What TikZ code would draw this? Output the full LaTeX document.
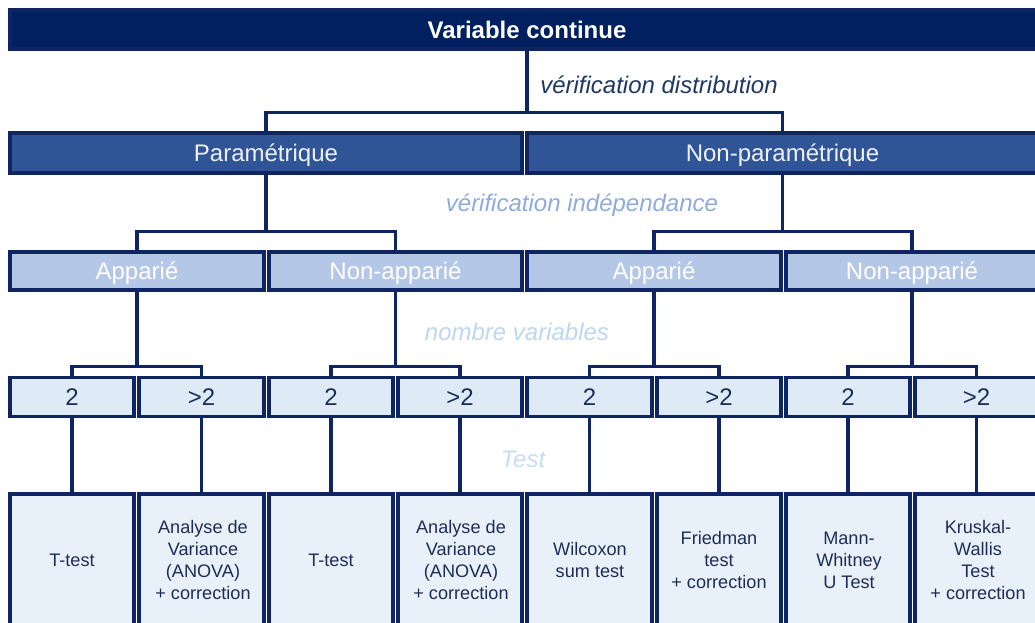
\documentclass[tikz,border=0pt]{standalone}
\usepackage{fontspec}
\setmainfont{Liberation Sans}
\definecolor{navy}{HTML}{0E2463}
\definecolor{topfill}{HTML}{002060}
\definecolor{lvtwo}{HTML}{2F5597}
\definecolor{lvthree}{HTML}{B4C7E7}
\definecolor{lvfour}{HTML}{DEEBF7}
\definecolor{lvfive}{HTML}{E8F0F9}
\definecolor{txtdark}{HTML}{1F2D55}
\definecolor{labone}{HTML}{1F3864}
\definecolor{labtwo}{HTML}{8FAADC}
\definecolor{labthree}{HTML}{BDD7EE}
\definecolor{labfour}{HTML}{C9DDF1}
\begin{document}
\begin{tikzpicture}[x=0.75pt,y=-0.75pt,
  box/.style={draw=navy,line width=2.3pt,inner sep=0pt,rectangle},
  sz/.style 2 args={minimum width=(#1)*0.75pt,minimum height=(#2)*0.75pt},
  big/.style={font=\fontsize{18}{21}\selectfont,text depth=0pt},
  small/.style={font=\fontsize{13.6}{16.5}\selectfont,align=center,text=txtdark},
  topbox/.style={box,fill=topfill},
  lvtwobox/.style={box,fill=lvtwo,text=white!92!lvtwo,big},
  lvthreebox/.style={box,fill=lvthree,text=white,big},
  lvfourbox/.style={box,fill=lvfour,text=txtdark,big},
  lvfivebox/.style={box,fill=lvfive,small},
  conn/.style={draw=navy,line width=2.3pt},
  lab/.style={font=\fontsize{18}{21}\selectfont\itshape,inner sep=0pt}
]
\useasboundingbox (0,0) rectangle (1035,623);
\clip (0,0) rectangle (1035,623);
% level 1
\node[topbox,sz={1028}{39}] (top) at (524,29.5) {};
\node[text=white,font=\fontsize{18}{21}\selectfont\bfseries,text depth=0pt] (toptxt) at (527,30) {Variable continue};
% level 2
\node[lvtwobox,sz={512}{40}] (par) at (266,153) {Paramétrique};
\node[lvtwobox,sz={511}{40}] (npar) at (782.5,153) {Non-paramétrique};
% level 3
\node[lvthreebox,sz={254}{38}] (a1) at (137,271) {Apparié};
\node[lvthreebox,sz={253}{38}] (n1) at (395.5,271) {Non-apparié};
\node[lvthreebox,sz={254}{38}] (a2) at (654,271) {Apparié};
\node[lvthreebox,sz={252}{38}] (n2) at (912,271) {Non-apparié};
% level 4
\foreach \i/\xa/\xb/\lbl in {1/10/134/2, 2/139/264/{>2}, 3/269/393/2, 4/398/522/{>2}, 5/527/652/2, 6/657/781/{>2}, 7/786/910/2, 8/915/1038/{>2}}{
  \node[lvfourbox,sz={\xb-\xa}{39}] (c\i) at ({(\xa+\xb)/2},397) {\lbl};
}
% level 5
\node[lvfivebox,sz={124}{140}] (t1) at (72,564) {};
\node[lvfivebox,sz={125}{140}] (t2) at (201.5,564) {};
\node[lvfivebox,sz={124}{140}] (t3) at (331,564) {};
\node[lvfivebox,sz={124}{140}] (t4) at (460,564) {};
\node[lvfivebox,sz={125}{140}] (t5) at (589.5,564) {};
\node[lvfivebox,sz={124}{140}] (t6) at (719,564) {};
\node[lvfivebox,sz={124}{140}] (t7) at (848,564) {};
\node[lvfivebox,sz={123}{140}] (t8) at (976.5,564) {};
\node[small] (x1) at (72,560) {T-test};
\node[small] (x2) at (203,560) {Analyse de\\Variance\\(ANOVA)\\+ correction};
\node[small] (x3) at (331,560) {T-test};
\node[small] (x4) at (461,560) {Analyse de\\Variance\\(ANOVA)\\+ correction};
\node[small] (x5) at (590,560) {Wilcoxon\\sum test};
\node[small] (x6) at (719,560) {Friedman\\test\\+ correction};
\node[small] (x7) at (849,560) {Mann-\\Whitney\\U Test};
\node[small] (x8) at (978,560) {Kruskal-\\Wallis\\Test\\+ correction};
% labels
\node[lab,text=labone,anchor=west] (l1) at (540,85) {vérification distribution};
\node[lab,text=labtwo] (l2) at (582,205) {vérification indépendance};
\node[lab,text=labthree] (l3) at (517,332) {nombre variables};
\node[lab,text=labfour] (l4) at (523,459) {Test};
% connectors
\draw[conn] (toptxt.center |- top.south) -- ++(0,62) coordinate (j0);
\draw[conn] (par.north) |- (j0) -| (npar.north);
\draw[conn] (par.south) -- ++(0,57) coordinate (j1);
\draw[conn] (a1.north) |- (j1) -| (n1.north);
\draw[conn] (npar.south) -- ++(0,57) coordinate (j2);
\draw[conn] (a2.north) |- (j2) -| (n2.north);
\draw[conn] (a1.south) -- ++(0,75) coordinate (j3);
\draw[conn] (c1.north) |- (j3) -| (c2.north);
\draw[conn] (n1.south) -- ++(0,75) coordinate (j4);
\draw[conn] (c3.north) |- (j4) -| (c4.north);
\draw[conn] (a2.south) -- ++(0,75) coordinate (j5);
\draw[conn] (c5.north) |- (j5) -| (c6.north);
\draw[conn] (n2.south) -- ++(0,75) coordinate (j6);
\draw[conn] (c7.north) |- (j6) -| (c8.north);
\foreach \i in {1,...,8}{\draw[conn] (c\i.south) -- (t\i.north);}
\end{tikzpicture}
\end{document}
